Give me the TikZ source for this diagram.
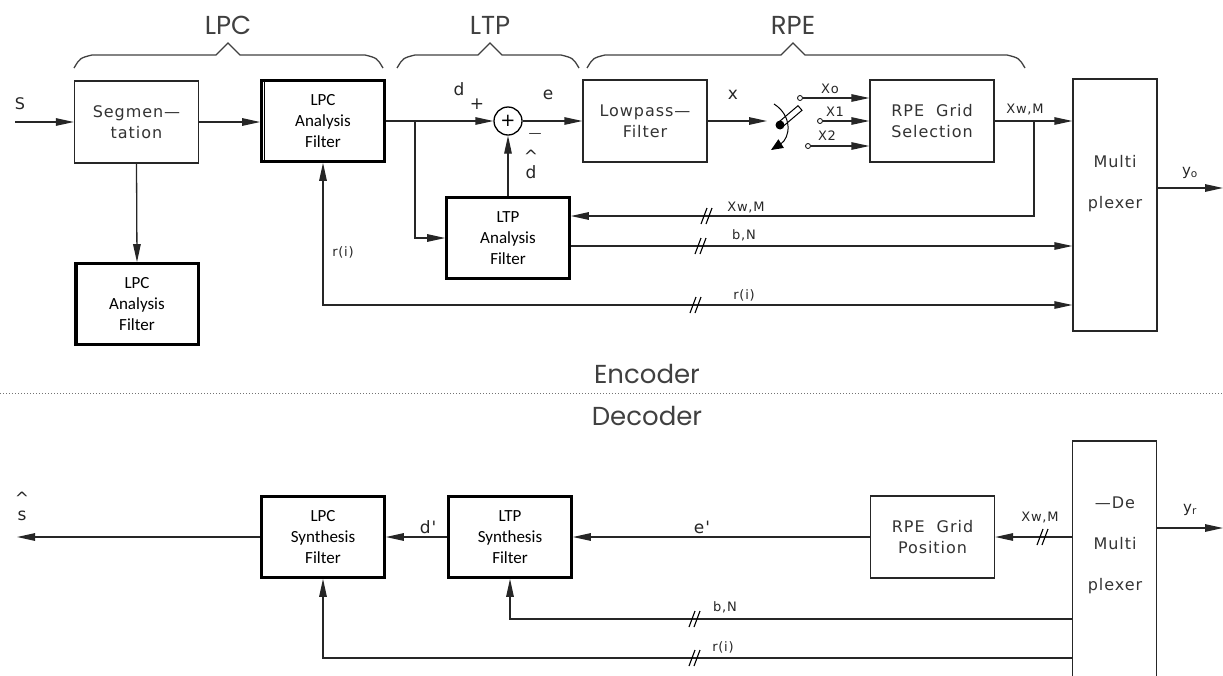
\documentclass[tikz,border=0pt]{standalone}
\usepackage{fontspec}
\setmainfont{Carlito}
\newfontfamily\cadfont[LetterSpace=6]{DejaVu Sans}
\newfontfamily\headfont{Poppins}
\usetikzlibrary{arrows.meta}

\tikzset{
  >={Triangle[length=18pt,width=7.5pt]},
  wire/.style={line width=1.3pt,black!85},
  filt/.style={draw,line width=2.6pt,minimum width=123pt,minimum height=81pt,
    align=center,inner sep=0pt,font=\fontsize{17}{21}\selectfont},
  blk/.style={draw,line width=1.3pt,black!85,text=black!80,minimum width=124pt,
    minimum height=82pt,align=center,inner sep=0pt,font=\cadfont\fontsize{16}{21}\selectfont},
  muxbox/.style={draw,line width=1.3pt,black!85,minimum width=84pt,minimum height=252pt},
  muxtxt/.style={align=center,text=black!80,font=\cadfont\fontsize{16}{41}\selectfont},
  lbl/.style={inner sep=1pt,text=black!85,font=\cadfont\fontsize{13}{14}\selectfont},
  biglbl/.style={inner sep=1pt,text=black!85,font=\cadfont\fontsize{17}{14}\selectfont},
  sumnode/.style={circle,draw,line width=1.3pt,minimum size=28pt,inner sep=0pt,
    font=\cadfont\fontsize{18}{18}\selectfont},
  contact/.style={circle,draw,line width=0.8pt,minimum size=5pt,inner sep=0pt},
  head/.style={text=black!75,font=\headfont\fontsize{26}{30}\selectfont},
  brace/.style={line width=1.3pt,black!75},
  dotline/.style={line width=0.9pt,black!55,dash pattern=on 1.2pt off 1.8pt},
  bus/.pic={\draw[line width=1.1pt] (-6,8) -- (0,-8) (-1,8) -- (5,-8);}
}

% group brace: left end, peak, right end
\newcommand{\grpbrace}[3]{%
  \draw[brace] (#1,68) .. controls (#1+6,58) .. (#1+18,55) -- (#2-12,55) -- (#2,43)
    -- (#2+12,55) -- (#3-18,55) .. controls (#3-6,58) .. (#3,68);}

\begin{document}
\begin{tikzpicture}[x=1pt,y=-1pt]
\useasboundingbox (0,0) rectangle (1223,675);

% ---------- encoder ----------
\grpbrace{74}{228}{383}
\grpbrace{397}{490}{579}
\grpbrace{587}{793}{1025}
\node[head] (hLPC) at (228,25) {LPC};
\node[head] (hLTP) at (490,25) {LTP};
\node[head] (hRPE) at (793,25) {RPE};

\node[blk] (seg) at (136.5,122) {Segmen—\\tation};
\node[filt] (lpcA) at (323,121) {LPC\\Analysis\\Filter};
\node[filt] (lpcB) at (137,304) {LPC\\Analysis\\Filter};
\node[sumnode] (sum) at (508,121) {+};
\node[filt] (ltpA) at (508,238) {LTP\\Analysis\\Filter};
\node[blk] (lowp) at (645,121) {Lowpass—\\Filter};
\node[blk] (rpes) at (932,121) {RPE\ \ Grid\\Selection};
\node[muxbox] (mux) at (1115,205) {};
\node[muxtxt] (muxt) at (1115,184) {Multi\\plexer};

\draw[line width=1pt] ([xshift=4pt]lpcA.north west) -- ([xshift=4pt]lpcA.south west);
\draw[line width=1pt] ([xshift=3pt]lpcB.north west) -- ([xshift=3pt]lpcB.south west);

\coordinate (sIn) at (15,122);
\coordinate (br1) at (415,121);
\coordinate (swIn) at (767,121);
\coordinate (br2) at (1034,121);
\coordinate (fb) at (1034,216);
\coordinate (rI) at (325,305);
\coordinate (yo) at (1223,188);

% switch
\node[contact] (c0) at (800,98) {};
\node[contact] (c1) at (820,121) {};
\node[contact] (c2) at (808,146) {};
\fill (780,125) circle (4.5);
\draw[line width=1pt] (782,127.3) -- (802,110.3) -- (798,105.7) -- (778,122.7) -- cycle;
\draw[line width=1pt,-{Triangle[length=12pt,width=10pt]}] (774,104) .. controls (793,116) and (790,138) .. (771,150);

\draw[wire,->] (sIn) -- (seg.west |- sIn);
\draw[wire,->] (seg.east) -- (seg.east -| lpcA.west);
\draw[wire,->] (lpcA.east) -- (sum.west);
\draw[wire,->] (br1) |- (ltpA.west);
\draw[wire,->] (ltpA.north) -- (sum.south);
\draw[wire,->] (sum.east) -- (lowp.west);
\draw[wire,->] (lowp.east) -- (swIn);
\draw[wire,->] (c0) -- (c0 -| rpes.west);
\draw[wire,->] (c1) -- (c1 -| rpes.west);
\draw[wire,->] (c2) -- (c2 -| rpes.west);
\draw[wire,->] (rpes.east) -- (rpes.east -| mux.west);
\draw[wire,->] (br2) -- (fb) -- (fb -| ltpA.east);
\draw[wire,->] ([yshift=-8pt]ltpA.east) -- ([yshift=-8pt]ltpA.east -| mux.west);
\draw[wire,<->] (lpcA.south) |- (rI -| mux.west);
\draw[wire,->] (seg.south) -- (lpcB.north);
\draw[wire,->] (yo -| mux.east) -- (yo);

\pic at (707,216) {bus};
\pic at (701,246) {bus};
\pic at (696,305) {bus};

\node[lbl] (lS) at (20,104) {\fontsize{16}{16}\selectfont S};
\node[biglbl] (ld) at (459,89) {d};
\node[biglbl] (lplus) at (477,104) {+};
\node[biglbl] (le) at (548,95) {e};
\node[biglbl,font=\cadfont\fontsize{13}{14}\selectfont] (lminus) at (535,135) {—};
\node[biglbl,inner sep=0pt] (ldhatc) at (531,156) {\textasciicircum};
\node[biglbl,inner sep=0pt] (ldhat) at (531,172) {d};
\node[biglbl] (lx) at (733,95) {x};
\node[lbl] (lX0) at (830,89) {Xo};
\node[lbl] (lX1) at (835,112) {X1};
\node[lbl] (lX2) at (827,136) {X2};
\node[lbl] (lXwM) at (1025,110) {Xw,M};
\node[lbl,font=\cadfont\fontsize{15}{15}\selectfont] (lyo) at (1190,173) {y\textsubscript{o}};
\node[lbl] (lXwMfb) at (746,208) {Xw,M};
\node[lbl] (lbN) at (744,235) {b,N};
\node[lbl] (lri) at (744,295) {r(i)};
\node[lbl] (lriv) at (343,252) {r(i)};

% ---------- separator ----------
\draw[dotline] (0,393) -- (1223,393);
\node[head] (hEnc) at (647,374) {Encoder};
\node[head] (hDec) at (647,416) {Decoder};

% ---------- decoder ----------
\node[filt] (lpcS) at (323,537) {LPC\\Synthesis\\Filter};
\node[filt] (ltpS) at (510,537) {LTP\\Synthesis\\Filter};
\node[blk] (rpeg) at (932.5,537) {RPE\ \ Grid\\Position};
\node[muxbox,minimum height=250pt] (demux) at (1114.5,566) {};
\node[muxtxt] (demuxt) at (1115,545) {—De\\Multi\\plexer};

\coordinate (shat) at (17,537);
\coordinate (yr) at (1223,528);
\coordinate (bND) at (0,619);
\coordinate (rID) at (0,658);

\draw[wire,->] (demux.west |- rpeg.east) -- (rpeg.east);
\draw[wire,->] (rpeg.west) -- (ltpS.east);
\draw[wire,->] (ltpS.west) -- (lpcS.east);
\draw[wire,->] (lpcS.west) -- (shat);
\draw[wire,->] (demux.west |- bND) -| (ltpS.south);
\draw[wire,->] (demux.west |- rID) -| (lpcS.south);
\draw[wire,->] (yr -| demux.east) -- (yr);

\pic at (1043,537) {bus};
\pic at (695,619) {bus};
\pic at (695,658) {bus};

\node[lbl] (lXwMd) at (1040,518) {Xw,M};
\node[biglbl] (lep) at (702,527) {e'};
\node[biglbl] (ldp) at (428,527) {d'};
\node[lbl] (lbNd) at (725,607) {b,N};
\node[lbl] (lrid) at (723,647) {r(i)};
\node[lbl,font=\cadfont\fontsize{15}{15}\selectfont] (lyr) at (1190,510) {y\textsubscript{r}};
\node[biglbl,inner sep=0pt] (lshatc) at (22,498) {\textasciicircum};
\node[biglbl,inner sep=0pt] (lshat) at (22,516) {s};
\end{tikzpicture}
\end{document}
